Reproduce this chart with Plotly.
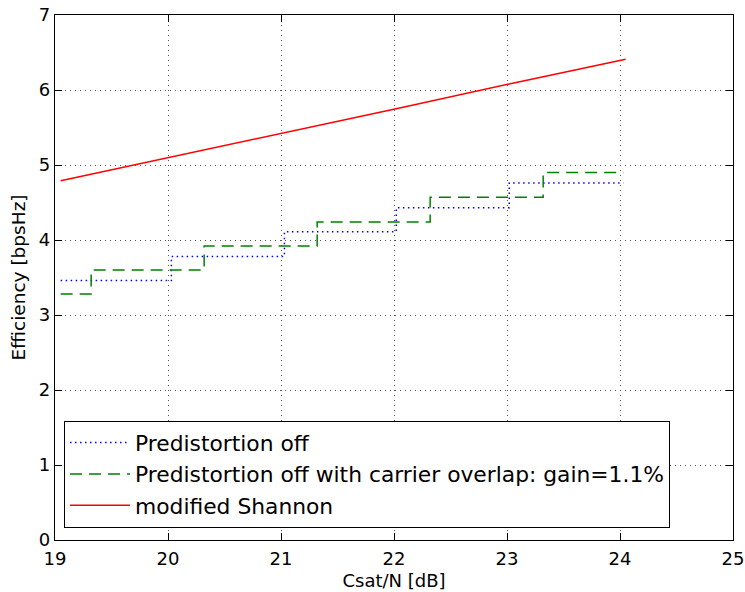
import plotly.graph_objects as go

# Predistortion off (step levels)
pd_off_x = [19.05, 20.03, 21.03, 22.02, 23.02, 24.03]
pd_off_y = [3.46, 3.78, 4.11, 4.43, 4.76, 4.76]

# Predistortion off with carrier overlap
overlap_x = [19.05, 19.32, 20.32, 21.32, 22.32, 23.32, 24.03]
overlap_y = [3.28, 3.60, 3.92, 4.24, 4.57, 4.90, 4.90]

# Modified Shannon
shannon_x = [19.05, 20.05, 21.05, 22.05, 23.05, 24.05]
shannon_y = [4.79, 5.11, 5.44, 5.76, 6.09, 6.41]

x_ticks = [19, 20, 21, 22, 23, 24, 25]
y_ticks = [0, 1, 2, 3, 4, 5, 6, 7]

FONT = "DejaVu Sans"

fig = go.Figure()
fig.add_trace(go.Scatter(x=pd_off_x, y=pd_off_y, mode="lines", line_shape="hv",
                         line=dict(color="#0000ff", width=1.5, dash="1.5px,3.5px"),
                         name="Predistortion off"))
fig.add_trace(go.Scatter(x=overlap_x, y=overlap_y, mode="lines", line_shape="hv",
                         line=dict(color="#008000", width=1.5, dash="12px,7px"),
                         name="Predistortion off with carrier overlap: gain=1.1%"))
fig.add_trace(go.Scatter(x=shannon_x, y=shannon_y, mode="lines",
                         line=dict(color="#ff0000", width=1.5),
                         name="modified Shannon"))

axis_common = dict(
    showline=True, linecolor="black", linewidth=1.2, mirror="ticks",
    ticks="inside", ticklen=7, tickcolor="black", tickwidth=1,
    showgrid=True, gridcolor="#555555", gridwidth=1, griddash="1px,4px",
    zeroline=False, tickfont=dict(family=FONT, size=18, color="black"),
    automargin=False, ticklabeloverflow="allow",
)

fig.update_xaxes(range=[19, 25], tickvals=x_ticks, ticktext=[str(v) for v in x_ticks],
                 title=dict(text="Csat/N [dB]", font=dict(family=FONT, size=18, color="black"), standoff=6),
                 ticklabelstandoff=2,
                 **axis_common)
fig.update_yaxes(range=[0, 7], tickvals=y_ticks, ticktext=[str(v) for v in y_ticks],
                 title=dict(text="Efficiency [bpsHz]", font=dict(family=FONT, size=18.5, color="black"), standoff=8),
                 **axis_common)

fig.update_layout(
    width=745, height=592,
    margin=dict(l=55, r=12, t=15, b=52, autoexpand=False),
    plot_bgcolor="white", paper_bgcolor="white",
    font=dict(family=FONT, color="black"),
    legend=dict(x=0.0133, y=0.023, xanchor="left", yanchor="bottom",
                bgcolor="white", bordercolor="black", borderwidth=1,
                font=dict(family=FONT, size=21.8, color="black"),
                itemwidth=60, tracegroupgap=0),
    showlegend=True,
)

# remove the browser's default body margin so the figure fills the window exactly
fig.write_html("out.html",
               config={"displayModeBar": False},
               post_script="document.body.style.margin='0';document.body.style.overflow='hidden';")
